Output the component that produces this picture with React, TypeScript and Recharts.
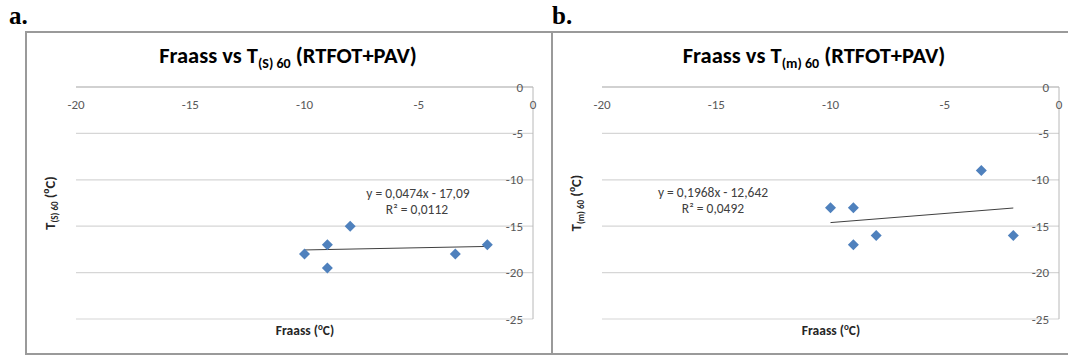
import { ScatterChart, Scatter, XAxis, YAxis, CartesianGrid } from "recharts";

// Fraass breaking point (°C) for each binder sample
const fraass = [-10, -9, -9, -8, -3.4, -2];
// T(S) 60 and T(m) 60 (°C) after RTFOT+PAV
const tS60 = [-18, -17, -19.5, -15, -18, -17];
const tM60 = [-13, -13, -17, -16, -9, -16];

// linear trendline ends
const trendS = [
  { x: -10, y: -17.56 },
  { x: -2, y: -17.18 },
];
const trendM = [
  { x: -10, y: -14.61 },
  { x: -2, y: -13.04 },
];

const xTicks = [-20, -15, -10, -5, 0];
const yTicks = [0, -5, -10, -15, -20, -25];

const FONT = "Carlito, Calibri, Lato, sans-serif";
const BLUE = "#4f81bd";

const pointsS = fraass.map((x, i) => ({ x, y: tS60[i] }));
const pointsM = fraass.map((x, i) => ({ x, y: tM60[i] }));

const Diamond = (props: any) => {
  const { cx, cy } = props;
  const r = 5.5;
  return (
    <path
      d={`M${cx},${cy - r}L${cx + r},${cy}L${cx},${cy + r}L${cx - r},${cy}Z`}
      fill={BLUE}
    />
  );
};

const NoDot = () => <g />;

const Centered = ({ x, y, style, children }: any) => (
  <div
    style={{
      position: "absolute",
      left: x,
      top: y,
      transform: "translate(-50%, -50%)",
      whiteSpace: "nowrap",
      textAlign: "center",
      fontFamily: FONT,
      lineHeight: 1,
      ...style,
    }}
  >
    {children}
  </div>
);

const Sup = ({ children, size = 9 }: any) => (
  <sup style={{ fontSize: size, lineHeight: 0 }}>{children}</sup>
);

function Panel({ left, points, trend }: any) {
  return (
    <ScatterChart
      width={524}
      height={319}
      margin={{ top: 54, left: 50, right: 17, bottom: 33 }}
      style={{ position: "absolute", left, top: 33 }}
    >
      <CartesianGrid horizontal vertical={false} stroke="#d6d6d6" strokeWidth={1.2} />
      <XAxis
        type="number"
        dataKey="x"
        orientation="top"
        mirror
        domain={[-20, 0]}
        ticks={xTicks}
        allowDataOverflow
        tickLine={false}
        tickSize={0}
        tickMargin={13}
        axisLine={{ stroke: "#b8b8b8" }}
        tick={{ fill: "#595959", fontSize: 13, fontFamily: FONT }}
      />
      <YAxis
        type="number"
        dataKey="y"
        orientation="right"
        mirror
        domain={[-25, 0]}
        ticks={yTicks}
        allowDataOverflow
        tickLine={false}
        tickSize={0}
        tickMargin={10}
        axisLine={{ stroke: "#b8b8b8" }}
        tick={{ fill: "#595959", fontSize: 13, fontFamily: FONT }}
      />
      <Scatter
        data={trend}
        line={{ stroke: "#404040", strokeWidth: 1 }}
        shape={NoDot}
        isAnimationActive={false}
      />
      <Scatter data={points} shape={Diamond} isAnimationActive={false} />
    </ScatterChart>
  );
}

export default function App() {
  const box = {
    position: "absolute" as const,
    top: 31,
    height: 320,
    border: "2px solid #9a9a9a",
    background: "#fff",
  };
  const title = { fontSize: 22.5, fontWeight: 700, color: "#000" };
  const subT = { fontSize: 14, verticalAlign: -5 };
  const axisT = { fontSize: 13.5, fontWeight: 700, color: "#262626" };
  const yT = { fontSize: 14.5, fontWeight: 700, color: "#262626" };
  const eq = { fontSize: 13.5, color: "#404040", lineHeight: "15px" };
  const label = {
    position: "absolute" as const,
    top: 2,
    fontFamily: "'Liberation Serif', 'Times New Roman', serif",
    fontWeight: 700,
    fontSize: 25,
  };
  return (
    <div
      style={{
        position: "absolute",
        left: 0,
        top: 0,
        width: 1068,
        height: 356,
        background: "#fff",
        overflow: "hidden",
      }}
    >
      <div style={{ ...box, left: 25, width: 524 }} />
      <div style={{ ...box, left: 551, width: 530 }} />
      <div style={{ ...label, left: 9 }}>a.</div>
      <div style={{ ...label, left: 552 }}>b.</div>

      <Panel left={26} points={pointsS} trend={trendS} />
      <Panel left={552} points={pointsM} trend={trendM} />

      <Centered x={288} y={58} style={title}>
        Fraass vs T<span style={subT}>(S) 60</span> (RTFOT+PAV)
      </Centered>
      <Centered x={814} y={58} style={title}>
        Fraass vs T<span style={subT}>(m) 60</span> (RTFOT+PAV)
      </Centered>

      <Centered x={305} y={331} style={axisT}>
        Fraass (<Sup>o</Sup>C)
      </Centered>
      <Centered x={831} y={331} style={axisT}>
        Fraass (<Sup>o</Sup>C)
      </Centered>

      <Centered x={51} y={203} style={{ ...yT, transform: "translate(-50%, -50%) rotate(-90deg)" }}>
        T<span style={{ fontSize: 9, verticalAlign: -3 }}>(S) 60</span> (<Sup size={9.5}>o</Sup>C)
      </Centered>
      <Centered x={577} y={203} style={{ ...yT, transform: "translate(-50%, -50%) rotate(-90deg)" }}>
        T<span style={{ fontSize: 9, verticalAlign: -3 }}>(m) 60</span> (<Sup size={9.5}>o</Sup>C)
      </Centered>

      <Centered x={418} y={193} style={eq}>
        y = 0,0474x - 17,09
      </Centered>
      <Centered x={417} y={208.5} style={eq}>
        R² = 0,0112
      </Centered>
      <Centered x={713} y={192} style={eq}>
        y = 0,1968x - 12,642
      </Centered>
      <Centered x={713} y={207.5} style={eq}>
        R² = 0,0492
      </Centered>
    </div>
  );
}
